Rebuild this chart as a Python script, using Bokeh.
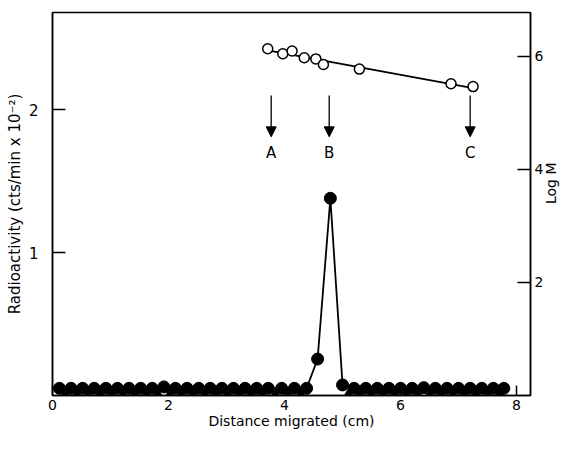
import math
from bokeh.plotting import figure
from bokeh.models import Range1d, LinearAxis, FixedTicker, Arrow, NormalHead, ColumnDataSource
from bokeh.core.properties import value
from bokeh.embed import file_html
from bokeh.resources import INLINE
import numpy as np

# ---- data ----
# radioactivity (filled circles), cts/min x 10^-2
radio_x = [0.12, 0.32, 0.52, 0.72, 0.92, 1.12, 1.32, 1.52, 1.72, 1.92,
           2.12, 2.32, 2.52, 2.72, 2.92, 3.12, 3.32, 3.52, 3.72, 3.95,
           4.17, 4.38, 4.57, 4.79, 5.00, 5.20, 5.40, 5.60, 5.80, 6.00,
           6.20, 6.40, 6.60, 6.80, 7.00, 7.20, 7.40, 7.60, 7.78]
radio_y = [0.05, 0.05, 0.05, 0.05, 0.05, 0.05, 0.05, 0.05, 0.05, 0.06,
           0.05, 0.05, 0.05, 0.05, 0.05, 0.05, 0.05, 0.05, 0.05, 0.05,
           0.05, 0.05, 0.255, 1.38, 0.074, 0.05, 0.05, 0.05, 0.05, 0.05,
           0.05, 0.055, 0.05, 0.05, 0.05, 0.05, 0.05, 0.05, 0.05]
# second series (filled triangles), nearly zero throughout
tri_x = [0.22, 0.42, 0.62, 0.82, 1.02, 1.22, 1.42, 1.62, 1.82, 2.02,
         2.22, 2.42, 2.62, 2.82, 3.02, 3.22, 3.42, 3.62, 3.84, 4.06,
         4.28, 5.10, 5.30, 5.50, 5.70, 5.90, 6.10, 6.30, 6.50, 6.70,
         6.90, 7.10, 7.30, 7.50, 7.70]
tri_y = [0.015] * 35
# molecular weight markers (open circles), log M
logm_x = [3.71, 3.97, 4.13, 4.34, 4.54, 4.67, 5.29, 6.87, 7.25]
logm_y = [6.13, 6.04, 6.09, 5.97, 5.95, 5.85, 5.77, 5.51, 5.46]
# arrow markers
marker_names = ["A", "B", "C"]
marker_x = [3.77, 4.77, 7.20]
arrow_top = 2.10
arrow_bottom = 1.81
marker_label_y = 1.70

x_ticks = [0, 2, 4, 6, 8]
left_ticks = [1, 2]
right_ticks = [2, 4, 6]

FONT = "DejaVu Sans"

p = figure(width=570, height=433,
           x_range=Range1d(0, 8.24), y_range=Range1d(0, 2.68),
           output_backend="svg", toolbar_location=None,
           min_border_left=52, min_border_right=33,
           min_border_top=12, min_border_bottom=38)
p.extra_y_ranges = {"logm": Range1d(0, 6.77)}
p.grid.visible = False
p.outline_line_color = "black"
p.outline_line_width = 1.5
p.background_fill_color = "white"
p.border_fill_color = "white"

right = LinearAxis(y_range_name="logm")
p.add_layout(right, "right")

for ax in [p.xaxis[0], p.yaxis[0], right]:
    ax.major_tick_out = 0
    ax.minor_tick_in = 0
    ax.minor_tick_out = 0
    ax.axis_line_width = 1.5
    ax.axis_line_color = "black"
    ax.major_tick_line_width = 1.5
    ax.major_tick_line_color = "black"
    ax.major_label_text_font = FONT
    ax.major_label_text_color = "black"
    ax.axis_label_text_font = FONT
    ax.axis_label_text_font_style = "normal"
    ax.axis_label_text_color = "black"

xa = p.xaxis[0]
xa.ticker = FixedTicker(ticks=x_ticks)
xa.major_tick_in = 10
xa.major_label_text_font_size = "14px"
xa.major_label_standoff = 4
xa.axis_label = "Distance migrated (cm)"
xa.axis_label_text_font_size = "14px"
xa.axis_label_standoff = 0

ya = p.yaxis[0]
ya.ticker = FixedTicker(ticks=left_ticks)
ya.major_tick_in = 13
ya.major_label_text_font_size = "15px"
ya.major_label_standoff = 14
ya.axis_label = "Radioactivity (cts/min x 10\u207b\u00b2)"
ya.axis_label_text_font_size = "15px"
ya.axis_label_standoff = 2

right.ticker = FixedTicker(ticks=right_ticks)
right.major_tick_in = 13
right.major_label_text_font_size = "14px"
right.major_label_standoff = 4
right.axis_label = "Log M"
right.axis_label_text_font_size = "14px"
right.axis_label_standoff = 5
right.axis_label_orientation = math.pi / 2

# triangles (under)
p.scatter(tri_x, tri_y, marker="triangle", size=8, fill_color="black", line_color="black")

# radioactivity
p.line(radio_x, radio_y, line_color="black", line_width=1.8)
p.scatter(radio_x, radio_y, marker="circle", size=12, fill_color="black", line_color="black")

# log M calibration
slope, intercept = np.polyfit(logm_x, logm_y, 1)
fit_x = [logm_x[0], logm_x[-1]]
fit_y = [slope * v + intercept for v in fit_x]
p.line(fit_x, fit_y, y_range_name="logm", line_color="black", line_width=1.8)
p.scatter(logm_x, logm_y, y_range_name="logm", marker="circle", size=10,
          fill_color="white", line_color="black", line_width=1.5)

# arrows
asrc = ColumnDataSource(dict(x=marker_x, y0=[arrow_top] * 3, y1=[arrow_bottom] * 3,
                             ly=[marker_label_y] * 3, t=marker_names))
p.add_layout(Arrow(end=NormalHead(size=10, fill_color="black", line_color="black", line_width=1),
                   x_start="x", y_start="y0", x_end="x", y_end="y1", source=asrc,
                   line_color="black", line_width=1.3))
p.text(x="x", y="ly", text="t", source=asrc, text_font=value(FONT), text_font_size="15px",
       text_align="center", text_baseline="middle", text_color="black")

open("out.html", "w").write(file_html(p, INLINE))
